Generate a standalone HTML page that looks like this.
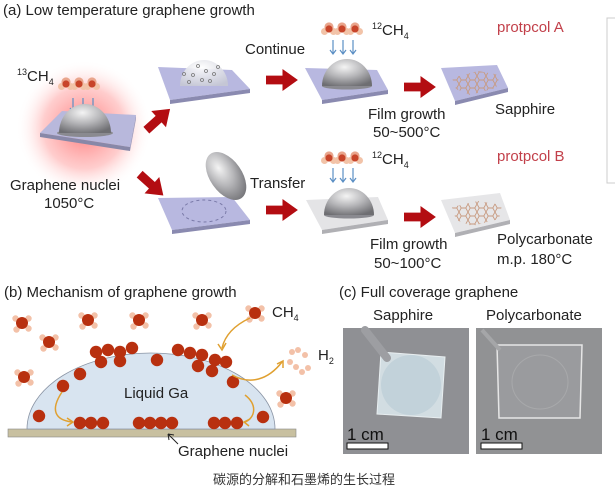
<!DOCTYPE html>
<html><head><meta charset="utf-8"><style>
html,body{margin:0;padding:0;background:#fff;}
svg{display:block;}
text{font-family:"Liberation Sans","Noto Sans CJK SC",sans-serif;}
</style></head><body>
<svg width="615" height="497" viewBox="0 0 615 497" xmlns="http://www.w3.org/2000/svg">
<defs>
<radialGradient id="glow" cx="50%" cy="50%" r="50%">
<stop offset="0" stop-color="#ff6060" stop-opacity="0.85"/>
<stop offset="0.6" stop-color="#ff9090" stop-opacity="0.45"/>
<stop offset="1" stop-color="#ffffff" stop-opacity="0"/>
</radialGradient>
<radialGradient id="dome" cx="45%" cy="30%" r="75%">
<stop offset="0" stop-color="#f4f4f4"/>
<stop offset="0.5" stop-color="#b5b5b8"/>
<stop offset="1" stop-color="#6e6e72"/>
</radialGradient>
<radialGradient id="domeL" cx="45%" cy="30%" r="75%">
<stop offset="0" stop-color="#ffffff"/>
<stop offset="1" stop-color="#c6c8d4"/>
</radialGradient>
<pattern id="hex" width="9" height="8" patternUnits="userSpaceOnUse">
<path d="M0,4 L2.2,0 L6.8,0 L9,4 L6.8,8 L2.2,8 Z" fill="none" stroke="#c89a80" stroke-width="0.9"/>
</pattern>
<g id="rarrow"><path d="M0,6 L15,6 L15,0 L29,10 L15,20 L15,14 L0,14 Z" fill="#b30d12" transform="scale(1.1)"/></g>
<g id="mol">
<circle cx="0" cy="0" r="4.6" fill="#e9a58c"/><circle cx="-4.5" cy="4.5" r="3.5" fill="#f2c3a8"/><circle cx="4.5" cy="4.5" r="3.5" fill="#f2c3a8"/><circle cx="0" cy="2" r="3.6" fill="#c8452a"/>
</g>
<g id="mols"><use href="#mol" x="0"/><use href="#mol" x="13"/><use href="#mol" x="26"/></g>
<g id="barr" stroke="#5b8fc4" stroke-width="1.2" fill="none">
<path d="M0,0 V14 M-3,10 L0,14 L3,10"/>
<path d="M10,0 V14 M7,10 L10,14 L13,10"/>
<path d="M20,0 V14 M17,10 L20,14 L23,10"/>
</g>
<g id="ch4"><circle r="3.2" fill="#f3c1a8" cx="-6.5" cy="-4.5"/><circle r="3.2" fill="#f3c1a8" cx="6.5" cy="-4.5"/><circle r="3.2" fill="#f3c1a8" cx="-5.5" cy="6.5"/><circle r="3.2" fill="#f3c1a8" cx="6.5" cy="5.5"/><circle r="6" fill="#b8300f"/></g>
<circle id="c" r="6.2" fill="#b8300f"/>
</defs>

<!-- Panel a -->
<text x="3" y="15" font-size="15" fill="#222">(a) Low temperature graphene growth</text>
<rect x="607" y="18" width="10" height="165" fill="none" stroke="#ccc"/>

<circle cx="84" cy="128" r="68" fill="url(#glow)"/>
<text x="17" y="81" font-size="15" fill="#222"><tspan font-size="9" dy="-6">13</tspan><tspan dy="6">CH</tspan><tspan font-size="9" dy="4">4</tspan></text>
<use href="#mols" x="66" y="82"/>
<use href="#barr" x="73" y="98"/>
<polygon points="40,133 62,111 136,115 130,147" fill="#b8b8dc"/>
<polygon points="40,133 130,147 130,151 40,137" fill="#8888a8"/>
<polygon points="130,147 136,115 136,119 130,151" fill="#9a9abc"/>
<ellipse cx="85" cy="133" rx="28" ry="4" fill="#8a8a90"/>
<path d="M59,133 A26,29 0 0 1 111,133 Z" fill="url(#dome)"/>
<text x="10" y="190" font-size="15" fill="#222">Graphene nuclei</text>
<text x="44" y="208" font-size="15" fill="#222">1050°C</text>

<use href="#rarrow" transform="translate(139,122) rotate(-42)"/>
<use href="#rarrow" transform="translate(147,166) rotate(42)"/>

<!-- top row -->
<polygon points="158,67 232,70 250,89 170,100" fill="#b8b8e0"/>
<polygon points="170,100 250,89 250,93 170,104" fill="#8a8ab0"/>
<path d="M180,86 A24,26 0 0 1 228,86 Z" fill="url(#domeL)" opacity="0.9"/>
<g fill="none" stroke="#777" stroke-width="0.8">
<circle cx="198" cy="66" r="1.5"/><circle cx="206" cy="71" r="1.5"/><circle cx="184" cy="74" r="1.5"/><circle cx="193" cy="75" r="1.5"/><circle cx="214" cy="74" r="1.5"/><circle cx="202" cy="80" r="1.5"/><circle cx="189" cy="82" r="1.5"/><circle cx="210" cy="81" r="1.5"/><circle cx="218" cy="67" r="1.5"/>
</g>
<use href="#rarrow" x="266" y="69"/>
<text x="245" y="54" font-size="15" fill="#222">Continue</text>
<use href="#mols" x="329" y="27"/>
<text x="372" y="35" font-size="15" fill="#222"><tspan font-size="9" dy="-6">12</tspan><tspan dy="6">CH</tspan><tspan font-size="9" dy="4">4</tspan></text>
<use href="#barr" x="333" y="40"/>
<polygon points="305,68 377,70 388,90 322,100" fill="#b8b8e0"/>
<polygon points="322,100 388,90 388,94 322,104" fill="#8a8ab0"/>
<ellipse cx="347" cy="86" rx="25" ry="3.5" fill="#8a8a90"/>
<path d="M322,86 A25,27 0 0 1 372,86 Z" fill="url(#dome)"/>
<use href="#rarrow" x="404" y="76"/>
<polygon points="441,68 497,65 508,88 455,101" fill="#b8b8e0"/>
<polygon points="455,101 508,88 508,92 455,105" fill="#8a8ab0"/>
<polygon points="452,78 478,71 500,75 496,88 470,95 456,89" fill="url(#hex)"/>
<text x="497" y="32" font-size="15" fill="#c2404a">protpcol A</text>
<text x="368" y="119" font-size="15" fill="#222">Film growth</text>
<text x="373" y="137" font-size="15" fill="#222">50~500°C</text>
<text x="495" y="114" font-size="15" fill="#222">Sapphire</text>

<!-- bottom row -->
<polygon points="158,198 232,197 250,220 172,230" fill="#b8b8e0"/>
<polygon points="172,230 250,220 250,224 172,234" fill="#8a8ab0"/>
<ellipse cx="204" cy="211" rx="22" ry="11" fill="none" stroke="#7a7aa8" stroke-dasharray="3,3"/>
<ellipse cx="226" cy="176" rx="16" ry="27" transform="rotate(-35 226 176)" fill="url(#dome)"/>
<text x="250" y="188" font-size="15" fill="#222">Transfer</text>
<use href="#rarrow" x="266" y="199"/>
<use href="#mols" x="329" y="156"/>
<text x="372" y="164" font-size="15" fill="#222"><tspan font-size="9" dy="-6">12</tspan><tspan dy="6">CH</tspan><tspan font-size="9" dy="4">4</tspan></text>
<use href="#barr" x="333" y="168"/>
<polygon points="306,200 378,197 388,220 322,230" fill="#e4e4e6"/>
<polygon points="322,230 388,220 388,224 322,234" fill="#b0b0b4"/>
<ellipse cx="349" cy="215" rx="25" ry="3.5" fill="#8a8a90"/>
<path d="M324,215 A25,27 0 0 1 374,215 Z" fill="url(#dome)"/>
<use href="#rarrow" x="404" y="206"/>
<polygon points="441,200 500,193 510,220 455,233" fill="#e6e6e8"/>
<polygon points="455,233 510,220 510,224 455,237" fill="#b0b0b4"/>
<polygon points="452,207 478,201 502,205 499,219 472,226 456,220" fill="url(#hex)"/>
<text x="497" y="161" font-size="15" fill="#c2404a">protpcol B</text>
<text x="370" y="249" font-size="15" fill="#222">Film growth</text>
<text x="374" y="268" font-size="15" fill="#222">50~100°C</text>
<text x="497" y="244" font-size="15" fill="#222">Polycarbonate</text>
<text x="497" y="264" font-size="15" fill="#222">m.p. 180°C</text>

<!-- Panel b -->
<text x="4" y="297" font-size="15" fill="#222">(b) Mechanism of graphene growth</text>
<rect x="8" y="429" width="288" height="8" fill="#c8c0a0" stroke="#888" stroke-width="0.6"/>
<path d="M27,429 A124,76 0 0 1 275,429 Z" fill="#d8e4f0" stroke="#8a94a4" stroke-width="0.8"/>
<text x="124" y="398" font-size="15" fill="#222">Liquid Ga</text>
<use href="#ch4" x="22" y="323"/><use href="#ch4" x="88" y="320"/><use href="#ch4" x="139" y="320"/><use href="#ch4" x="202" y="320"/><use href="#ch4" x="255" y="313"/><use href="#ch4" x="49" y="342"/><use href="#ch4" x="24" y="377"/><use href="#ch4" x="286" y="398"/>
<g>
<use href="#c" x="96" y="352"/><use href="#c" x="108" y="350"/><use href="#c" x="120" y="352"/><use href="#c" x="132" y="348"/><use href="#c" x="101" y="362"/><use href="#c" x="120" y="361"/>
<use href="#c" x="178" y="350"/><use href="#c" x="190" y="353"/><use href="#c" x="202" y="355"/><use href="#c" x="215" y="360"/><use href="#c" x="226" y="362"/><use href="#c" x="198" y="366"/><use href="#c" x="212" y="371"/>
<use href="#c" x="80" y="374"/><use href="#c" x="63" y="386"/><use href="#c" x="157" y="360"/><use href="#c" x="233" y="382"/><use href="#c" x="39" y="416"/><use href="#c" x="263" y="417"/>
<use href="#c" x="80" y="423"/><use href="#c" x="91" y="423"/><use href="#c" x="103" y="423"/>
<use href="#c" x="139" y="423"/><use href="#c" x="150" y="423"/><use href="#c" x="161" y="423"/><use href="#c" x="172" y="423"/>
<use href="#c" x="214" y="423"/><use href="#c" x="225" y="423"/><use href="#c" x="237" y="423"/>
</g>
<g fill="#f3c1a8"><circle cx="292" cy="352" r="3"/><circle cx="298" cy="350" r="3"/><circle cx="305" cy="355" r="3"/><circle cx="290" cy="362" r="3"/><circle cx="296" cy="367" r="3"/><circle cx="302" cy="372" r="3"/><circle cx="308" cy="368" r="3"/></g>
<g fill="none" stroke="#e0a030" stroke-width="1.5">
<path d="M250,318 C235,325 225,335 222,348"/><path d="M218,344 L222,350 L226,343"/>
<path d="M232,375 C250,385 268,380 282,362"/><path d="M277,364 L283,361 L283,368"/>
<path d="M62,392 C50,410 55,420 72,422"/><path d="M67,418 L73,422 L67,426"/>
<path d="M245,395 C258,405 255,418 245,422"/><path d="M250,419 L244,422 L249,426"/>
</g>
<text x="272" y="317" font-size="15" fill="#222">CH<tspan font-size="9" dy="4">4</tspan></text>
<text x="318" y="360" font-size="15" fill="#222">H<tspan font-size="9" dy="4">2</tspan></text>
<path d="M178,444 L168,434 M168,434 L169,440 M168,434 L174,435" stroke="#222" fill="none"/>
<text x="178" y="456" font-size="15" fill="#222">Graphene nuclei</text>

<!-- Panel c -->
<text x="339" y="297" font-size="15" fill="#222">(c) Full coverage graphene</text>
<text x="373" y="320" font-size="15" fill="#222">Sapphire</text>
<text x="486" y="320" font-size="15" fill="#222">Polycarbonate</text>
<rect x="343" y="328" width="126" height="126" fill="#8f9094"/>
<polygon points="381,352 445,357 441,418 377,414" fill="#d2dde2" stroke="#e8eef0"/>
<ellipse cx="411" cy="385" rx="30" ry="30" fill="#c2d2da"/>
<path d="M365,330 L387,358" stroke="#9d9ea2" stroke-width="8" stroke-linecap="round"/>
<rect x="476" y="328" width="126" height="126" fill="#919294"/>
<polygon points="497,345 582,345 580,418 499,418" fill="#9a9b9e" stroke="#e6e6e6" stroke-width="1.5"/>
<ellipse cx="540" cy="382" rx="28" ry="27" fill="none" stroke="#a8a9ab"/>
<path d="M482,330 L500,350" stroke="#a5a6a8" stroke-width="4"/>
<text x="347" y="440" font-size="17" fill="#111">1 cm</text>
<rect x="347" y="443" width="41" height="6" fill="#fff" stroke="#111" stroke-width="1"/>
<text x="481" y="440" font-size="17" fill="#111">1 cm</text>
<rect x="481" y="443" width="41" height="6" fill="#fff" stroke="#111" stroke-width="1"/>

<text x="304" y="484" font-size="13" fill="#333" text-anchor="middle">碳源的分解和石墨烯的生长过程</text>
</svg>
</body></html>
